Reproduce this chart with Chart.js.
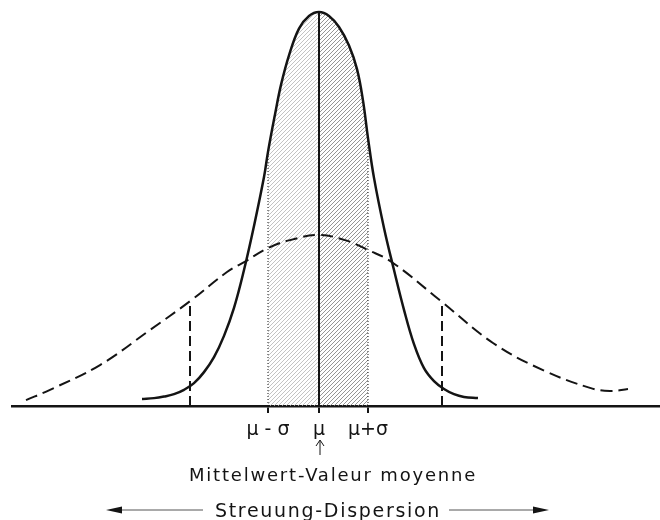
<!DOCTYPE html>
<html>
<head>
<meta charset="utf-8">
<script src="https://cdn.jsdelivr.net/npm/chart.js@4.4.1/dist/chart.umd.min.js"></script>
<style>
  html, body { margin: 0; padding: 0; background: #fff; }
  #wrap { width: 660px; height: 520px; }
</style>
</head>
<body>
<div id="wrap"><canvas id="myChart" width="660" height="520"></canvas></div>
<script>
// x in units of the narrow sigma (mean at 0), y relative to the narrow peak
const narrowX = [-3.54, -3.3, -3.1, -2.9, -2.7, -2.5, -2.3, -2.1, -1.9, -1.7, -1.5, -1.3, -1.1, -1.02, -0.88, -0.76, -0.6, -0.4, -0.2, 0, 0.2, 0.4, 0.6, 0.76, 0.88, 0.98, 1.1, 1.3, 1.5, 1.7, 1.9, 2.1, 2.3, 2.5, 2.7, 2.9, 3.18];
const narrowY = [0.018, 0.020, 0.024, 0.030, 0.041, 0.058, 0.086, 0.124, 0.178, 0.249, 0.345, 0.457, 0.581, 0.645, 0.740, 0.815, 0.890, 0.958, 0.990, 1.0, 0.990, 0.962, 0.915, 0.855, 0.775, 0.680, 0.579, 0.452, 0.345, 0.244, 0.157, 0.096, 0.063, 0.043, 0.030, 0.023, 0.020];

const wideX = [-5.86, -5.38, -4.38, -3.38, -2.58, -1.84, -1.46, -1.02, -0.58, 0, 0.52, 0.98, 1.46, 2.46, 3.48, 4.48, 5.42, 5.82, 6.18];
const wideY = [0.015, 0.041, 0.104, 0.193, 0.266, 0.340, 0.368, 0.401, 0.421, 0.434, 0.421, 0.396, 0.365, 0.264, 0.160, 0.091, 0.046, 0.038, 0.043];

const mu = 0;
const narrowLo = -1.02, narrowHi = 0.98;   // mu - sigma, mu + sigma
const wideLo = -2.58, wideHi = 2.46;       // sigma of the flat curve

const tickValues = [narrowLo, mu, narrowHi];
const tickLabels = ['μ - σ', 'μ', 'μ+σ'];

const meanLabel = 'Mittelwert-Valeur moyenne';
const spreadLabel = 'Streuung-Dispersion';

function pts(xs, ys) {
    return xs.map((x, i) => ({x: x, y: ys[i]}));
}
function at(xs, ys, x) {
    return ys[xs.indexOf(x)];
}
function vline(x, top) {
    return [{x: x, y: 0}, {x: x, y: top}];
}

const ctx = document.getElementById('myChart').getContext('2d');

// diagonal hatching for the +-sigma area
function hatch(color) {
    const c = document.createElement('canvas');
    c.width = c.height = 4;
    const g = c.getContext('2d');
    g.strokeStyle = color;
    g.lineWidth = 0.8;
    g.beginPath();
    g.moveTo(0, 4); g.lineTo(4, 0);
    g.moveTo(-1, 1); g.lineTo(1, -1);
    g.moveTo(3, 5); g.lineTo(5, 3);
    g.stroke();
    return ctx.createPattern(c, 'repeat');
}

const narrowPts = pts(narrowX, narrowY);
const leftShade = narrowPts.filter(p => p.x >= narrowLo && p.x <= mu);
const rightShade = narrowPts.filter(p => p.x >= mu && p.x <= narrowHi);

const ink = '#141414';

const labelsPlugin = {
    id: 'labels',
    afterDraw(chart) {
        const c = chart.ctx;
        const xs = chart.scales.x;
        const bottom = chart.chartArea.bottom;
        const xm = xs.getPixelForValue(mu);
        c.save();
        c.fillStyle = ink;
        c.strokeStyle = ink;

        // small arrow pointing to the mean
        c.lineWidth = 1;
        c.beginPath();
        c.moveTo(xm + 1, bottom + 49);
        c.lineTo(xm + 1, bottom + 35);
        c.moveTo(xm - 3, bottom + 40);
        c.lineTo(xm + 1, bottom + 34);
        c.lineTo(xm + 5, bottom + 40);
        c.stroke();

        c.textAlign = 'center';
        c.textBaseline = 'alphabetic';
        c.font = '18px "DejaVu Sans"';
        c.letterSpacing = '1.8px';
        c.fillText(meanLabel, xm + 14, bottom + 75);

        c.font = '19px "DejaVu Sans"';
        c.letterSpacing = '1.7px';
        c.fillText(spreadLabel, xm + 9, bottom + 111);

        // long arrows either side of the dispersion label
        const ay = bottom + 104;
        c.strokeStyle = '#555';
        c.lineWidth = 1;
        c.beginPath();
        c.moveTo(115, ay); c.lineTo(203, ay);
        c.moveTo(449, ay); c.lineTo(540, ay);
        c.stroke();
        c.fillStyle = ink;
        c.beginPath();
        c.moveTo(106, ay); c.lineTo(122, ay - 3.5); c.lineTo(122, ay + 3.5); c.closePath();
        c.moveTo(549, ay); c.lineTo(533, ay - 3.5); c.lineTo(533, ay + 3.5); c.closePath();
        c.fill();
        c.restore();
    }
};

const chart = new Chart(ctx, {
    type: 'line',
    data: {
        datasets: [
            {
                data: narrowPts,
                borderColor: ink,
                borderWidth: 2.5,
                tension: 0.4,
                pointRadius: 0,
                fill: false
            },
            {
                data: pts(wideX, wideY),
                borderColor: ink,
                borderWidth: 2,
                borderDash: [12, 6],
                tension: 0.4,
                pointRadius: 0,
                fill: false
            },
            {
                data: vline(mu, at(narrowX, narrowY, mu)),
                borderColor: ink,
                borderWidth: 2,
                pointRadius: 0
            },
            {
                data: vline(narrowLo, at(narrowX, narrowY, narrowLo)),
                borderColor: ink,
                borderWidth: 1,
                borderDash: [1, 2],
                pointRadius: 0
            },
            {
                data: vline(narrowHi, at(narrowX, narrowY, narrowHi)),
                borderColor: ink,
                borderWidth: 1,
                borderDash: [1, 2],
                pointRadius: 0
            },
            {
                data: vline(wideLo, at(wideX, wideY, wideLo)),
                borderColor: ink,
                borderWidth: 2,
                borderDash: [10, 5],
                pointRadius: 0
            },
            {
                data: vline(wideHi, at(wideX, wideY, wideHi)),
                borderColor: ink,
                borderWidth: 2,
                borderDash: [10, 5],
                pointRadius: 0
            },
            {
                data: leftShade,
                borderWidth: 0,
                tension: 0.4,
                pointRadius: 0,
                backgroundColor: hatch('#b4b4b4'),
                fill: 'origin'
            },
            {
                data: rightShade,
                borderWidth: 0,
                tension: 0.4,
                pointRadius: 0,
                backgroundColor: hatch('#7a7a7a'),
                fill: 'origin'
            }
        ]
    },
    options: {
        responsive: false,
        animation: false,
        layout: { padding: { left: 12, right: 0, top: 0, bottom: 0 } },
        plugins: {
            legend: { display: false },
            tooltip: { enabled: false }
        },
        scales: {
            x: {
                type: 'linear',
                min: -6.14,
                max: 6.82,
                afterFit(scale) { scale.height = 114; },
                afterBuildTicks(scale) {
                    scale.ticks = tickValues.map(v => ({value: v}));
                },
                ticks: {
                    autoSkip: false,
                    maxRotation: 0,
                    padding: 6,
                    color: ink,
                    font: { family: 'DejaVu Sans', size: 19 },
                    callback: (value, index) => tickLabels[index]
                },
                grid: {
                    drawOnChartArea: false,
                    drawTicks: true,
                    tickLength: 7,
                    color: ink,
                    lineWidth: 2
                },
                border: { display: true, color: ink, width: 2.5 }
            },
            y: {
                display: false,
                min: 0,
                max: 1.0305
            }
        }
    },
    plugins: [labelsPlugin]
});
</script>
</body>
</html>
